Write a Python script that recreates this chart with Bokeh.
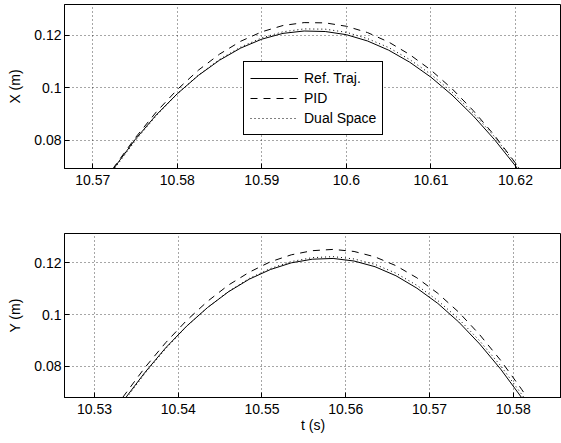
from bokeh.plotting import figure
from bokeh.layouts import column
from bokeh.models import LinearAxis, FixedTicker, Range1d, Grid
from bokeh.embed import file_html
from bokeh.resources import INLINE

# ---------------- data ----------------
# Top panel: X (m)
tx_ref = [10.5715, 10.5750, 10.5775, 10.5800, 10.5825, 10.5850, 10.5875, 10.5900, 10.5925, 10.5950,
          10.5975, 10.6000, 10.6025, 10.6050, 10.6075, 10.6100, 10.6125, 10.6150, 10.6175, 10.6200, 10.6210]
x_ref = [0.0651, 0.0803, 0.0897, 0.0978, 0.1048, 0.1106, 0.1152, 0.1186, 0.1208, 0.1217,
         0.1215, 0.1203, 0.1179, 0.1144, 0.1098, 0.1041, 0.0973, 0.0894, 0.0804, 0.0703, 0.0659]

tx_pid = [10.5715, 10.5725, 10.5750, 10.5775, 10.5800, 10.5825, 10.5850, 10.5875, 10.5900, 10.5925, 10.5950,
          10.5975, 10.6000, 10.6025, 10.6050, 10.6075, 10.6100, 10.6125, 10.6150, 10.6175, 10.6200, 10.6215]
x_pid = [0.0650, 0.0698, 0.0809, 0.0908, 0.0994, 0.1068, 0.1129, 0.1178, 0.1214, 0.1238, 0.1249,
         0.1248, 0.1235, 0.1211, 0.1175, 0.1127, 0.1068, 0.0997, 0.0914, 0.0820, 0.0714, 0.0645]

tx_dual = [10.5715, 10.5725, 10.5750, 10.5775, 10.5800, 10.5825, 10.5850, 10.5875, 10.5900, 10.5925, 10.5950,
           10.5975, 10.6000, 10.6025, 10.6050, 10.6075, 10.6100, 10.6125, 10.6150, 10.6175, 10.6200, 10.6215]
x_dual = [0.0644, 0.0690, 0.0798, 0.0894, 0.0978, 0.1049, 0.1109, 0.1156, 0.1191, 0.1214, 0.1225,
          0.1224, 0.1212, 0.1188, 0.1154, 0.1108, 0.1052, 0.0984, 0.0905, 0.0815, 0.0713, 0.0647]

# Bottom panel: Y (m)
ty_ref = [10.5330, 10.5340, 10.5360, 10.5385, 10.5410, 10.5435, 10.5460, 10.5485, 10.5510, 10.5535, 10.5560,
          10.5585, 10.5610, 10.5635, 10.5660, 10.5685, 10.5710, 10.5735, 10.5760, 10.5785, 10.5810, 10.5820]
y_ref = [0.0645, 0.0690, 0.0775, 0.0871, 0.0955, 0.1027, 0.1088, 0.1137, 0.1174, 0.1200, 0.1214,
         0.1217, 0.1207, 0.1185, 0.1150, 0.1102, 0.1043, 0.0971, 0.0886, 0.0789, 0.0679, 0.0631]

ty_pid = [10.5325, 10.5335, 10.5360, 10.5385, 10.5410, 10.5435, 10.5460, 10.5485, 10.5510, 10.5535, 10.5560,
          10.5585, 10.5610, 10.5635, 10.5660, 10.5685, 10.5710, 10.5735, 10.5760, 10.5785, 10.5810, 10.5825]
y_pid = [0.0638, 0.0685, 0.0794, 0.0891, 0.0977, 0.1051, 0.1114, 0.1164, 0.1204, 0.1231, 0.1247,
         0.1252, 0.1244, 0.1223, 0.1189, 0.1142, 0.1082, 0.1009, 0.0922, 0.0823, 0.0711, 0.0638]

ty_dual = [10.5330, 10.5340, 10.5360, 10.5385, 10.5410, 10.5435, 10.5460, 10.5485, 10.5510, 10.5535, 10.5560,
           10.5585, 10.5610, 10.5635, 10.5660, 10.5685, 10.5710, 10.5735, 10.5760, 10.5785, 10.5810, 10.5825]
y_dual = [0.0640, 0.0685, 0.0771, 0.0868, 0.0954, 0.1027, 0.1089, 0.1140, 0.1178, 0.1205, 0.1220,
          0.1224, 0.1215, 0.1194, 0.1160, 0.1113, 0.1054, 0.0983, 0.0898, 0.0802, 0.0692, 0.0621]

# Ticks
top_xticks = [10.57, 10.58, 10.59, 10.60, 10.61, 10.62]
top_xlabels = ["10.57", "10.58", "10.59", "10.6", "10.61", "10.62"]
bot_xticks = [10.53, 10.54, 10.55, 10.56, 10.57, 10.58]
bot_xlabels = ["10.53", "10.54", "10.55", "10.56", "10.57", "10.58"]
yticks = [0.08, 0.10, 0.12]
ylabels = ["0.08", "0.1", "0.12"]

series_names = ["Ref. Traj.", "PID", "Dual Space"]

FONT = "Liberation Sans"
FS = "14px"


def style_axis(ax, ticks, labels):
    ax.ticker = FixedTicker(ticks=ticks)
    ax.major_label_overrides = {t: l for t, l in zip(ticks, labels)}
    ax.major_tick_in = 5
    ax.major_tick_out = 0
    ax.minor_tick_in = 0
    ax.minor_tick_out = 0
    ax.axis_line_color = "black"
    ax.axis_line_width = 1
    ax.major_tick_line_color = "black"
    ax.major_label_text_font = FONT
    ax.major_label_text_font_size = FS
    ax.major_label_text_color = "black"
    ax.axis_label_text_font = FONT
    ax.axis_label_text_font_size = FS
    ax.axis_label_text_font_style = "normal"
    ax.axis_label_text_color = "black"


def make_panel(xr, yr, xticks, xlabels, ylabel, xlabel, height, top, bottom,
               t1, v1, t2, v2, t3, v3, legend):
    p = figure(width=561, height=height, output_backend="svg", toolbar_location=None,
               x_range=Range1d(*xr), y_range=Range1d(*yr),
               min_border_left=64, min_border_right=0, min_border_top=top,
               min_border_bottom=bottom, x_axis_type=None, y_axis_type=None)
    p.outline_line_color = "black"
    p.outline_line_width = 1
    p.background_fill_color = "white"
    p.border_fill_color = "white"

    xb = LinearAxis()
    style_axis(xb, xticks, xlabels)
    xb.major_label_standoff = 6
    if xlabel:
        xb.axis_label = xlabel
        xb.axis_label_standoff = 0
    p.add_layout(xb, "below")

    yl = LinearAxis()
    style_axis(yl, yticks, ylabels)
    yl.major_label_standoff = 3
    yl.axis_label = ylabel
    yl.axis_label_standoff = 8
    p.add_layout(yl, "left")

    gx = Grid(dimension=0, ticker=FixedTicker(ticks=xticks), grid_line_color="black",
              grid_line_dash="1 3", grid_line_alpha=0.7)
    gy = Grid(dimension=1, ticker=FixedTicker(ticks=yticks), grid_line_color="black",
              grid_line_dash="1 3", grid_line_alpha=0.7)
    p.add_layout(gx)
    p.add_layout(gy)

    kw = dict(legend_label=series_names[0]) if legend else {}
    p.line(t1, v1, line_color="black", line_width=1, **kw)
    kw = dict(legend_label=series_names[1]) if legend else {}
    p.line(t2, v2, line_color="black", line_width=1, line_dash="7 6", **kw)
    kw = dict(legend_label=series_names[2]) if legend else {}
    p.line(t3, v3, line_color="black", line_width=1, line_dash="1 3", **kw)

    if legend:
        lg = p.legend[0]
        lg.location = (179, 33)
        lg.border_line_color = "black"
        lg.border_line_width = 1
        lg.border_line_alpha = 1
        lg.background_fill_color = "white"
        lg.background_fill_alpha = 1
        lg.padding = 6
        lg.spacing = 0
        lg.margin = 0
        lg.glyph_width = 48
        lg.glyph_height = 20
        lg.label_height = 20
        lg.label_standoff = 6
        lg.label_text_font = FONT
        lg.label_text_font_size = FS
        lg.label_text_color = "black"
    return p


p1 = make_panel((10.56665, 10.62545), (0.0693, 0.1318), top_xticks, top_xlabels, "X (m)", None,
                200, 4, 32, tx_ref, x_ref, tx_pid, x_pid, tx_dual, x_dual, True)
p2 = make_panel((10.52642, 10.58577), (0.0679, 0.13135), bot_xticks, bot_xlabels, "Y (m)", "t (s)",
                243, 33, 46, ty_ref, y_ref, ty_pid, y_pid, ty_dual, y_dual, False)

layout = column(p1, p2, spacing=0)
open("out.html", "w").write(file_html(layout, INLINE))
